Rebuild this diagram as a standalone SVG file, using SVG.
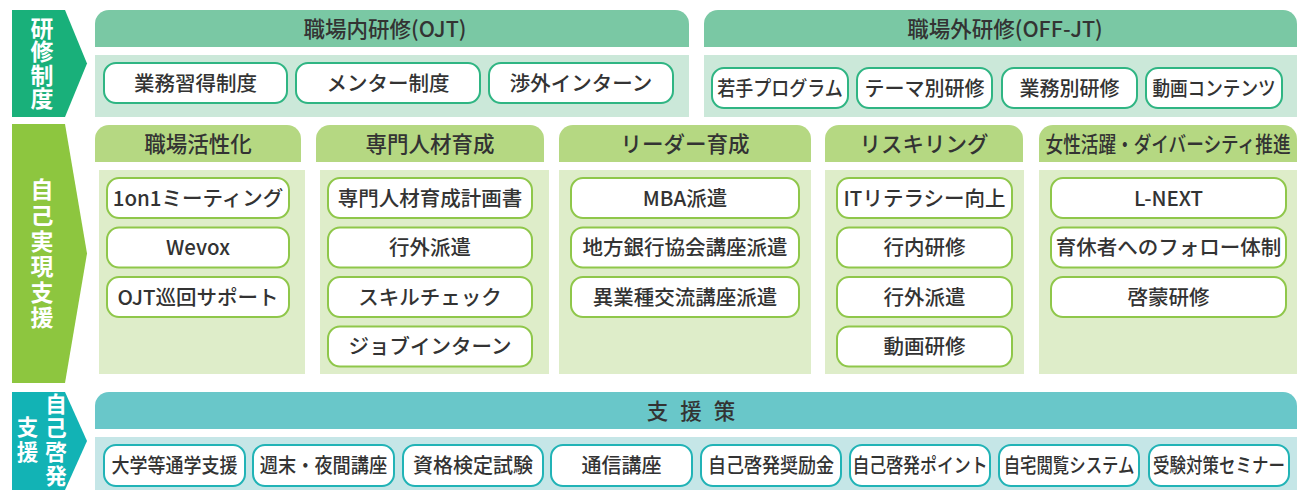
<svg xmlns="http://www.w3.org/2000/svg" width="1300" height="490" viewBox="0 0 1300 490">
<style>
text{font-family:"Noto Sans CJK JP","Noto Sans",sans-serif;fill:#333;}
.lbl{fill:#fff;font-size:23px;font-weight:700;text-anchor:middle;writing-mode:vertical-rl;}
.hd{font-size:21.5px;font-weight:500;text-anchor:middle;}
.it{font-size:20px;font-weight:500;text-anchor:middle;}
.itm{font-size:20.5px;font-weight:500;text-anchor:middle;}
.b1{fill:#fff;stroke:#2fb583;stroke-width:2;}
.b2{fill:#fff;stroke:#8fc74a;stroke-width:2;}
.b3{fill:#fff;stroke:#21b3b6;stroke-width:2;}
.h1{fill:#7ac8a4;}.p1{fill:#cbe8d9;}
.h2{fill:#b5d882;}.p2{fill:#deedc9;}
.h3{fill:#69c7c9;}.p3{fill:#c5e6e7;}
</style>

<g id="arrow-kenshu">
<path d="M12,10 H65 L87,63.5 L65,117 H12 Z" fill="#19b07a"/>
<text class="lbl" x="42" y="63.5" style="letter-spacing:0.5px">研修制度</text>
</g>

<g id="ojt">
<path class="h1" d="M95,47 V24 A14,14 0 0 1 109,10 H675 A14,14 0 0 1 689,24 V47 Z"/>
<text class="hd" x="385" y="36.5">職場内研修(OJT)</text>
<rect class="p1" x="95" y="55" width="594" height="62"/>
<g id="ojt-1"><rect class="b1" x="104" y="63" width="183" height="40" rx="12"/><text class="itm" x="195.5" y="90.5">業務習得制度</text></g>
<g id="ojt-2"><rect class="b1" x="296" y="63" width="184" height="40" rx="12"/><text class="itm" x="388" y="90.5">メンター制度</text></g>
<g id="ojt-3"><rect class="b1" x="489" y="63" width="184" height="40" rx="12"/><text class="itm" x="581" y="90.5">渉外インターン</text></g>
</g>

<g id="offjt">
<path class="h1" d="M704,47 V24 A14,14 0 0 1 718,10 H1283 A14,14 0 0 1 1297,24 V47 Z"/>
<text class="hd" x="1005" y="36.5">職場外研修(OFF-JT)</text>
<rect class="p1" x="704" y="55" width="593" height="62"/>
<g id="offjt-1"><rect class="b1" x="712" y="68" width="136" height="40" rx="12"/><text class="it" transform="translate(780,95.5) scale(0.9,1)">若手プログラム</text></g>
<g id="offjt-2"><rect class="b1" x="857" y="68" width="135" height="40" rx="12"/><text class="it" x="924.5" y="95.5">テーマ別研修</text></g>
<g id="offjt-3"><rect class="b1" x="1002" y="68" width="135" height="40" rx="12"/><text class="it" x="1069.5" y="95.5">業務別研修</text></g>
<g id="offjt-4"><rect class="b1" x="1146" y="68" width="136" height="40" rx="12"/><text class="it" transform="translate(1214,95.5) scale(0.88,1)">動画コンテンツ</text></g>
</g>

<g id="arrow-jiko">
<path d="M12,124 H65 L87,253.5 L65,383 H12 Z" fill="#8dc63f"/>
<text class="lbl" x="42" y="255" style="letter-spacing:2.6px">自己実現支援</text>
</g>

<g id="col-kasseika">
<path class="h2" d="M95,162 V139 A14,14 0 0 1 109,125 H287 A14,14 0 0 1 301,139 V162 Z"/>
<text class="hd" x="198" y="151.5">職場活性化</text>
<rect class="p2" x="99" y="170" width="206" height="204"/>
<g id="k-1"><rect class="b2" x="107" y="178" width="182" height="40" rx="12"/><text class="itm" x="198" y="205.5">1on1ミーティング</text></g>
<g id="k-2"><rect class="b2" x="107" y="227.5" width="182" height="40" rx="12"/><text class="itm" x="198" y="255">Wevox</text></g>
<g id="k-3"><rect class="b2" x="107" y="277" width="182" height="40" rx="12"/><text class="itm" x="198" y="304.5">OJT巡回サポート</text></g>
</g>

<g id="col-senmon">
<path class="h2" d="M316,162 V139 A14,14 0 0 1 330,125 H530 A14,14 0 0 1 544,139 V162 Z"/>
<text class="hd" x="430" y="151.5">専門人材育成</text>
<rect class="p2" x="320" y="170" width="229" height="204"/>
<g id="s-1"><rect class="b2" x="328" y="178" width="204" height="40" rx="12"/><text class="itm" x="430" y="205.5">専門人材育成計画書</text></g>
<g id="s-2"><rect class="b2" x="328" y="227.5" width="204" height="40" rx="12"/><text class="itm" x="430" y="255">行外派遣</text></g>
<g id="s-3"><rect class="b2" x="328" y="277" width="204" height="40" rx="12"/><text class="itm" x="430" y="304.5">スキルチェック</text></g>
<g id="s-4"><rect class="b2" x="328" y="326.5" width="204" height="40" rx="12"/><text class="itm" x="430" y="354">ジョブインターン</text></g>
</g>

<g id="col-leader">
<path class="h2" d="M559,162 V139 A14,14 0 0 1 573,125 H797 A14,14 0 0 1 811,139 V162 Z"/>
<text class="hd" x="685" y="151.5">リーダー育成</text>
<rect class="p2" x="559" y="170" width="252" height="204"/>
<g id="l-1"><rect class="b2" x="571" y="178" width="228" height="40" rx="12"/><text class="itm" x="685" y="205.5">MBA派遣</text></g>
<g id="l-2"><rect class="b2" x="571" y="227.5" width="228" height="40" rx="12"/><text class="itm" x="685" y="255">地方銀行協会講座派遣</text></g>
<g id="l-3"><rect class="b2" x="571" y="277" width="228" height="40" rx="12"/><text class="itm" x="685" y="304.5">異業種交流講座派遣</text></g>
</g>

<g id="col-reskilling">
<path class="h2" d="M825,162 V139 A14,14 0 0 1 839,125 H1009 A14,14 0 0 1 1023,139 V162 Z"/>
<text class="hd" x="924" y="151.5">リスキリング</text>
<rect class="p2" x="825" y="170" width="199" height="204"/>
<g id="r-1"><rect class="b2" x="837" y="178" width="175" height="40" rx="12"/><text class="itm" x="924.5" y="205.5">ITリテラシー向上</text></g>
<g id="r-2"><rect class="b2" x="837" y="227.5" width="175" height="40" rx="12"/><text class="itm" x="924.5" y="255">行内研修</text></g>
<g id="r-3"><rect class="b2" x="837" y="277" width="175" height="40" rx="12"/><text class="itm" x="924.5" y="304.5">行外派遣</text></g>
<g id="r-4"><rect class="b2" x="837" y="326.5" width="175" height="40" rx="12"/><text class="itm" x="924.5" y="354">動画研修</text></g>
</g>

<g id="col-diversity">
<path class="h2" d="M1039,162 V139 A14,14 0 0 1 1053,125 H1283 A14,14 0 0 1 1297,139 V162 Z"/>
<text class="hd" transform="translate(1168,151.5) scale(0.82,1)">女性活躍・ダイバーシティ推進</text>
<rect class="p2" x="1039" y="170" width="258" height="204"/>
<g id="d-1"><rect class="b2" x="1051" y="178" width="235" height="40" rx="12"/><text class="itm" x="1168.5" y="205.5">L-NEXT</text></g>
<g id="d-2"><rect class="b2" x="1051" y="227.5" width="235" height="40" rx="12"/><text class="itm" x="1168.5" y="255">育休者へのフォロー体制</text></g>
<g id="d-3"><rect class="b2" x="1051" y="277" width="235" height="40" rx="12"/><text class="itm" x="1168.5" y="304.5">啓蒙研修</text></g>
</g>

<g id="arrow-keihatsu">
<path d="M12,392 H65 L87,441 L65,490 H12 Z" fill="#12b3b5"/>
<text class="lbl" x="56" y="441" style="font-size:21.5px;letter-spacing:2.5px">自己啓発</text>
<text class="lbl" x="27.5" y="441.5" style="font-size:21.5px;letter-spacing:4px">支援</text>
</g>

<g id="shiensaku">
<path class="h3" d="M95,429 V406 A14,14 0 0 1 109,392 H1283 A14,14 0 0 1 1297,406 V429 Z"/>
<text class="hd" x="697" y="418.5" style="letter-spacing:12px">支援策</text>
<rect class="p3" x="95" y="437" width="1202" height="53"/>
<g id="c-1"><rect class="b3" x="104" y="445" width="141" height="41" rx="12"/><text class="it" transform="translate(174.5,472.5) scale(0.9,1)">大学等通学支援</text></g>
<g id="c-2"><rect class="b3" x="253" y="445" width="141" height="41" rx="12"/><text class="it" transform="translate(323.5,472.5) scale(0.91,1)">週末・夜間講座</text></g>
<g id="c-3"><rect class="b3" x="403" y="445" width="140" height="41" rx="12"/><text class="it" x="473" y="472.5">資格検定試験</text></g>
<g id="c-4"><rect class="b3" x="551" y="445" width="141" height="41" rx="12"/><text class="it" x="621.5" y="472.5">通信講座</text></g>
<g id="c-5"><rect class="b3" x="701" y="445" width="140" height="41" rx="12"/><text class="it" transform="translate(771,472.5) scale(0.9,1)">自己啓発奨励金</text></g>
<g id="c-6"><rect class="b3" x="850" y="445" width="140" height="41" rx="12"/><text class="it" transform="translate(920,472.5) scale(0.845,1)">自己啓発ポイント</text></g>
<g id="c-7"><rect class="b3" x="999" y="445" width="140" height="41" rx="12"/><text class="it" transform="translate(1069,472.5) scale(0.82,1)">自宅閲覧システム</text></g>
<g id="c-8"><rect class="b3" x="1149" y="445" width="140" height="41" rx="12"/><text class="it" transform="translate(1219,472.5) scale(0.825,1)">受験対策セミナー</text></g>
</g>

<g id="connectors"></g>
</svg>
